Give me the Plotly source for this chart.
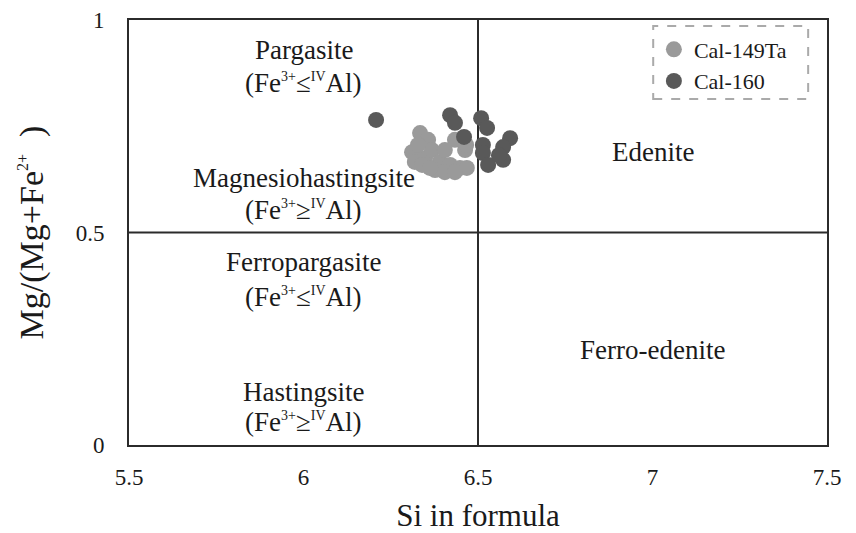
import plotly.graph_objects as go

# Data
cal149_si = [6.334, 6.357, 6.311, 6.319, 6.348, 6.368, 6.391, 6.420, 6.448, 6.468,
             6.377, 6.405, 6.434, 6.463, 6.466, 6.434, 6.405, 6.340, 6.362, 6.328]
cal149_mg = [0.734, 0.718, 0.689, 0.666, 0.675, 0.694, 0.666, 0.659, 0.652, 0.652,
             0.647, 0.642, 0.642, 0.694, 0.706, 0.718, 0.694, 0.659, 0.652, 0.706]
cal160_si = [6.208, 6.420, 6.434, 6.460, 6.509, 6.526, 6.514, 6.514, 6.529, 6.572,
             6.592, 6.572, 6.560]
cal160_mg = [0.765, 0.776, 0.758, 0.725, 0.769, 0.746, 0.706, 0.687, 0.659, 0.671,
             0.722, 0.701, 0.682]

x_ticks = [5.5, 6, 6.5, 7, 7.5]
y_ticks = [0, 0.5, 1]
x_div = 6.5
y_div = 0.5

SUP = '<sup><span style="font-size:14px">{}</span></sup>'
le = "(Fe" + SUP.format("3+") + "≤" + SUP.format("IV") + "Al)"
ge = "(Fe" + SUP.format("3+") + "≥" + SUP.format("IV") + "Al)"
region_labels = ["Pargasite", le, "Magnesiohastingsite", ge,
                 "Ferropargasite", le, "Hastingsite", ge,
                 "Edenite", "Ferro-edenite"]
label_x = [6.0, 6.0, 6.0, 6.0, 6.0, 6.0, 6.0, 6.0, 7.0, 7.0]
label_y = [0.929, 0.852, 0.628, 0.553, 0.431, 0.348, 0.125, 0.054, 0.689, 0.224]

FONT = "Liberation Serif, Times New Roman, serif"
LINE = "#2b2b2b"

fig = go.Figure()
fig.add_trace(go.Scatter(x=cal149_si, y=cal149_mg, mode="markers", name="Cal-149Ta",
                         marker=dict(size=16, color="#9a9a9a")))
fig.add_trace(go.Scatter(x=cal160_si, y=cal160_mg, mode="markers", name="Cal-160",
                         marker=dict(size=16, color="#595959")))

# Divider lines
fig.add_shape(type="line", x0=x_div, x1=x_div, y0=0, y1=1, xref="x", yref="y",
              line=dict(color=LINE, width=2), layer="below")
fig.add_shape(type="line", x0=5.5, x1=7.5, y0=y_div, y1=y_div, xref="x", yref="y",
              line=dict(color=LINE, width=2), layer="below")

for t, xx, yy in zip(region_labels, label_x, label_y):
    fig.add_annotation(x=xx, y=yy, text=t, showarrow=False,
                       font=dict(family=FONT, size=27, color="#1a1a1a"))

# Dashed legend box
fig.add_shape(type="rect", xref="paper", yref="paper", x0=0.751, x1=0.973,
              y0=0.814, y1=0.986, line=dict(color="#aaaaaa", width=2, dash="dash"))

fig.update_layout(
    width=856, height=533,
    margin=dict(l=129, r=29, t=20, b=88, autoexpand=False),
    paper_bgcolor="white", plot_bgcolor="white",
    font=dict(family=FONT, color="#1a1a1a"),
    showlegend=True,
    legend=dict(x=0.752, y=0.98, xanchor="left", yanchor="top",
                bgcolor="rgba(0,0,0,0)", font=dict(family=FONT, size=22),
                itemwidth=30, tracegroupgap=0),
    xaxis=dict(range=[5.5, 7.5], tickvals=x_ticks, ticktext=[str(v) for v in x_ticks],
               showgrid=False, zeroline=False, showline=True, mirror=True,
               linecolor=LINE, linewidth=2, ticks="outside", ticklen=10,
               tickcolor="rgba(0,0,0,0)", tickfont=dict(size=23), automargin=False,
               title=dict(text="Si in formula", font=dict(size=31), standoff=18)),
    yaxis=dict(range=[0, 1], tickvals=y_ticks, ticktext=["0", "0.5", "1"],
               showgrid=False, zeroline=False, showline=True, mirror=True,
               linecolor=LINE, linewidth=2, ticks="outside", ticklen=18,
               tickcolor="rgba(0,0,0,0)", tickfont=dict(size=23), automargin=False,
               title=dict(text='Mg/(Mg+Fe<sup><span style="font-size:16px">2+</span></sup>  )',
                          font=dict(size=34), standoff=22)),
)

fig.write_html("out.html", config={"displayModeBar": False},
               post_script="document.body.style.margin='0';")
